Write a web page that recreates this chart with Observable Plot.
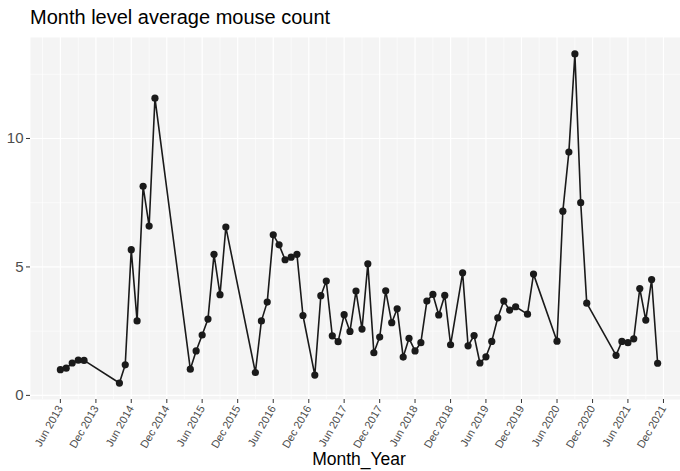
<!DOCTYPE html>
<html>
<head>
<meta charset="utf-8">
<script src="https://cdn.jsdelivr.net/npm/d3@7"></script>
<script src="https://cdn.jsdelivr.net/npm/@observablehq/plot@0.6"></script>
<style>
  html, body { margin: 0; padding: 0; background: white; width: 680px; height: 471px; overflow: hidden; }
  #wrap { position: relative; width: 680px; height: 471px; font-family: "Liberation Sans", Arial, sans-serif; }
  #title { position: absolute; left: 30px; top: 6.5px; font-size: 20px; line-height: 20px; color: #000; white-space: nowrap; }
  #chart { position: absolute; left: 0; top: 30px; }
</style>
</head>
<body>
<div id="wrap">
  <div id="title">Month level average mouse count</div>
  <div id="chart"></div>
</div>
<script>
// Month of each observation (YYYY-MM)
const months = [
  "2013-06","2013-07","2013-08","2013-09","2013-10",
  "2014-04","2014-05","2014-06","2014-07","2014-08","2014-09","2014-10",
  "2015-04","2015-05","2015-06","2015-07","2015-08","2015-09","2015-10",
  "2016-03","2016-04","2016-05","2016-06","2016-07","2016-08","2016-09","2016-10","2016-11",
  "2017-01","2017-02","2017-03","2017-04","2017-05","2017-06","2017-07","2017-08","2017-09","2017-10","2017-11","2017-12",
  "2018-01","2018-02","2018-03","2018-04","2018-05","2018-06","2018-07","2018-08","2018-09","2018-10","2018-11","2018-12",
  "2019-02","2019-03","2019-04","2019-05","2019-06","2019-07","2019-08","2019-09","2019-10","2019-11",
  "2020-01","2020-02","2020-06","2020-07","2020-08","2020-09","2020-10","2020-11",
  "2021-04","2021-05","2021-06","2021-07","2021-08","2021-09","2021-10","2021-11"
];
// Average mouse count per month
const counts = [
  1.00, 1.06, 1.26, 1.37, 1.36,
  0.48, 1.19, 5.67, 2.90, 8.14, 6.59, 11.57,
  1.02, 1.73, 2.35, 2.97, 5.49, 3.92, 6.55,
  0.89, 2.90, 3.63, 6.25, 5.86, 5.28, 5.38, 5.49, 3.11,
  0.79, 3.88, 4.45, 2.32, 2.09, 3.14, 2.49, 4.06, 2.58, 5.12, 1.66, 2.27,
  4.07, 2.83, 3.37, 1.49, 2.22, 1.73, 2.05, 3.67, 3.93, 3.13, 3.89, 1.97,
  4.77, 1.93, 2.33, 1.26, 1.50, 2.10, 3.02, 3.67, 3.32, 3.45,
  3.16, 4.72, 2.11, 7.17, 9.47, 13.29, 7.50, 3.59,
  1.56, 2.10, 2.05, 2.20, 4.16, 2.93, 4.51, 1.25
];
// x-axis tick months
const xTickMonths = [
  "2013-06","2013-12","2014-06","2014-12","2015-06","2015-12","2016-06","2016-12",
  "2017-06","2017-12","2018-06","2018-12","2019-06","2019-12","2020-06","2020-12",
  "2021-06","2021-12"
];
// y-axis ticks
const yTicks = [0, 5, 10];
const yMinor = [2.5, 7.5, 12.5];

const toDate = m => new Date(m + "-01T00:00:00Z");
const data = months.map((m, i) => ({date: toDate(m), value: counts[i]}));
const xTicks = xTickMonths.map(toDate);
const xMinor = [d3.utcMonth.offset(xTicks[0], -3), ...xTicks.map(d => d3.utcMonth.offset(d, 3))];

// ggplot-style 5% expansion
const [t0, t1] = d3.extent(data, d => +d.date);
const tPad = (t1 - t0) * 0.05;
const [v0, v1] = d3.extent(counts);
const vPad = (v1 - v0) * 0.05;

const W = 680, H = 441;
const panelLeft = 30, panelRightFull = 687;

const chart = Plot.plot({
  width: W,
  height: H,
  marginLeft: panelLeft,
  marginRight: 0,
  marginTop: 7,
  marginBottom: 72,
  style: {fontFamily: "'Liberation Sans', Arial, sans-serif", background: "white", overflow: "hidden"},
  x: {type: "utc", domain: [new Date(t0 - tPad), new Date(t1 + tPad)], range: [panelLeft, panelRightFull]},
  y: {domain: [v0 - vPad, v1 + vPad]},
  marks: [
    Plot.frame({fill: "#F4F4F4", stroke: "none"}),
    Plot.gridY(yMinor, {stroke: "white", strokeOpacity: 1, strokeWidth: 0.6}),
    Plot.gridX(xMinor, {stroke: "white", strokeOpacity: 1, strokeWidth: 0.6}),
    Plot.gridY(yTicks, {stroke: "white", strokeOpacity: 1, strokeWidth: 1.2}),
    Plot.gridX(xTicks, {stroke: "white", strokeOpacity: 1, strokeWidth: 1.2}),
    Plot.line(data, {x: "date", y: "value", stroke: "#1a1a1a", strokeWidth: 1.6}),
    Plot.dot(data, {x: "date", y: "value", r: 3.6, fill: "#1a1a1a", stroke: "none"}),
    Plot.axisY({ticks: yTicks, tickSize: 4, tickPadding: 3, fontSize: 15, stroke: "#333333", fill: "#4D4D4D", label: null}),
    Plot.axisX({ticks: xTicks, tickFormat: d3.utcFormat("%b %Y"), tickRotate: -60, tickSize: 4, tickPadding: 3,
                fontSize: 11, stroke: "#333333", fill: "#4D4D4D", label: null}),
    Plot.text(["Month_Year"], {frameAnchor: "bottom", dx: 3.5, dy: 65, fontSize: 17.5, fill: "black"})
  ]
});
document.getElementById("chart").appendChild(chart);
</script>
</body>
</html>
